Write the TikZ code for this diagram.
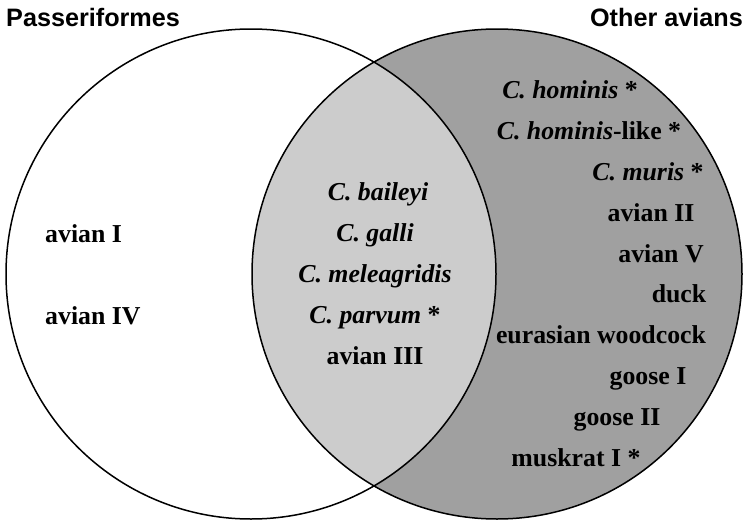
\documentclass[tikz,border=0pt]{standalone}
\usepackage{fontspec}
\setmainfont{Liberation Serif}
\newfontfamily\titlefont{Liberation Sans}
\definecolor{lensgray}{HTML}{CCCCCC}
\definecolor{darkgray}{HTML}{A0A0A0}
\begin{document}
\begin{tikzpicture}[x=1pt,y=-1pt,
  lbl/.style={inner sep=0pt,anchor=base,font=\fontsize{25.8}{30}\selectfont\bfseries},
  ttl/.style={inner sep=0pt,font=\titlefont\fontsize{25.2}{30}\selectfont\bfseries},
  ring/.style={draw=black,line width=1.5pt}]
\useasboundingbox (0,0) rectangle (745,522);
\coordinate (cl) at (251,274);
\coordinate (cr) at (497,274);
\fill[white] (cl) circle (245);
\fill[darkgray] (cr) circle (245);
\begin{scope}
  \clip (cl) circle (245);
  \fill[lensgray] (cr) circle (245);
\end{scope}
\draw[ring] (cl) circle (245);
\draw[ring] (cr) circle (245);
% titles
\node[ttl,anchor=base west] (t1) at (6,27) {Passeriformes};
\node[ttl,anchor=base east] (t2) at (743,27) {Other avians};
% left only
\node[lbl,anchor=base west] (a1) at (45,242) {avian I};
\node[lbl,anchor=base west] (a4) at (45,324) {avian IV};
% lens
\node[lbl] (b1) at (378,200) {\itshape C. baileyi};
\node[lbl] (b2) at (375,241) {\itshape C. galli};
\node[lbl] (b3) at (375,282) {\itshape C. meleagridis};
\node[lbl] (b4) at (375,323) {\textit{C. parvum} *};
\node[lbl] (b5) at (375,364) {avian III};
% right only
\node[lbl] (r1) at (570,98) {\textit{C. hominis} *};
\node[lbl] (r2) at (589,139) {\textit{C. hominis}-like *};
\node[lbl] (r3) at (648,180) {\textit{C. muris} *};
\node[lbl] (r4) at (651,221) {avian II};
\node[lbl] (r5) at (661,262) {avian V};
\node[lbl] (r6) at (679,302) {duck};
\node[lbl] (r7) at (601,343) {eurasian woodcock};
\node[lbl] (r8) at (648,384) {goose I};
\node[lbl] (r9) at (617,425) {goose II};
\node[lbl] (r10) at (576,466) {muskrat I *};
\end{tikzpicture}
\end{document}
